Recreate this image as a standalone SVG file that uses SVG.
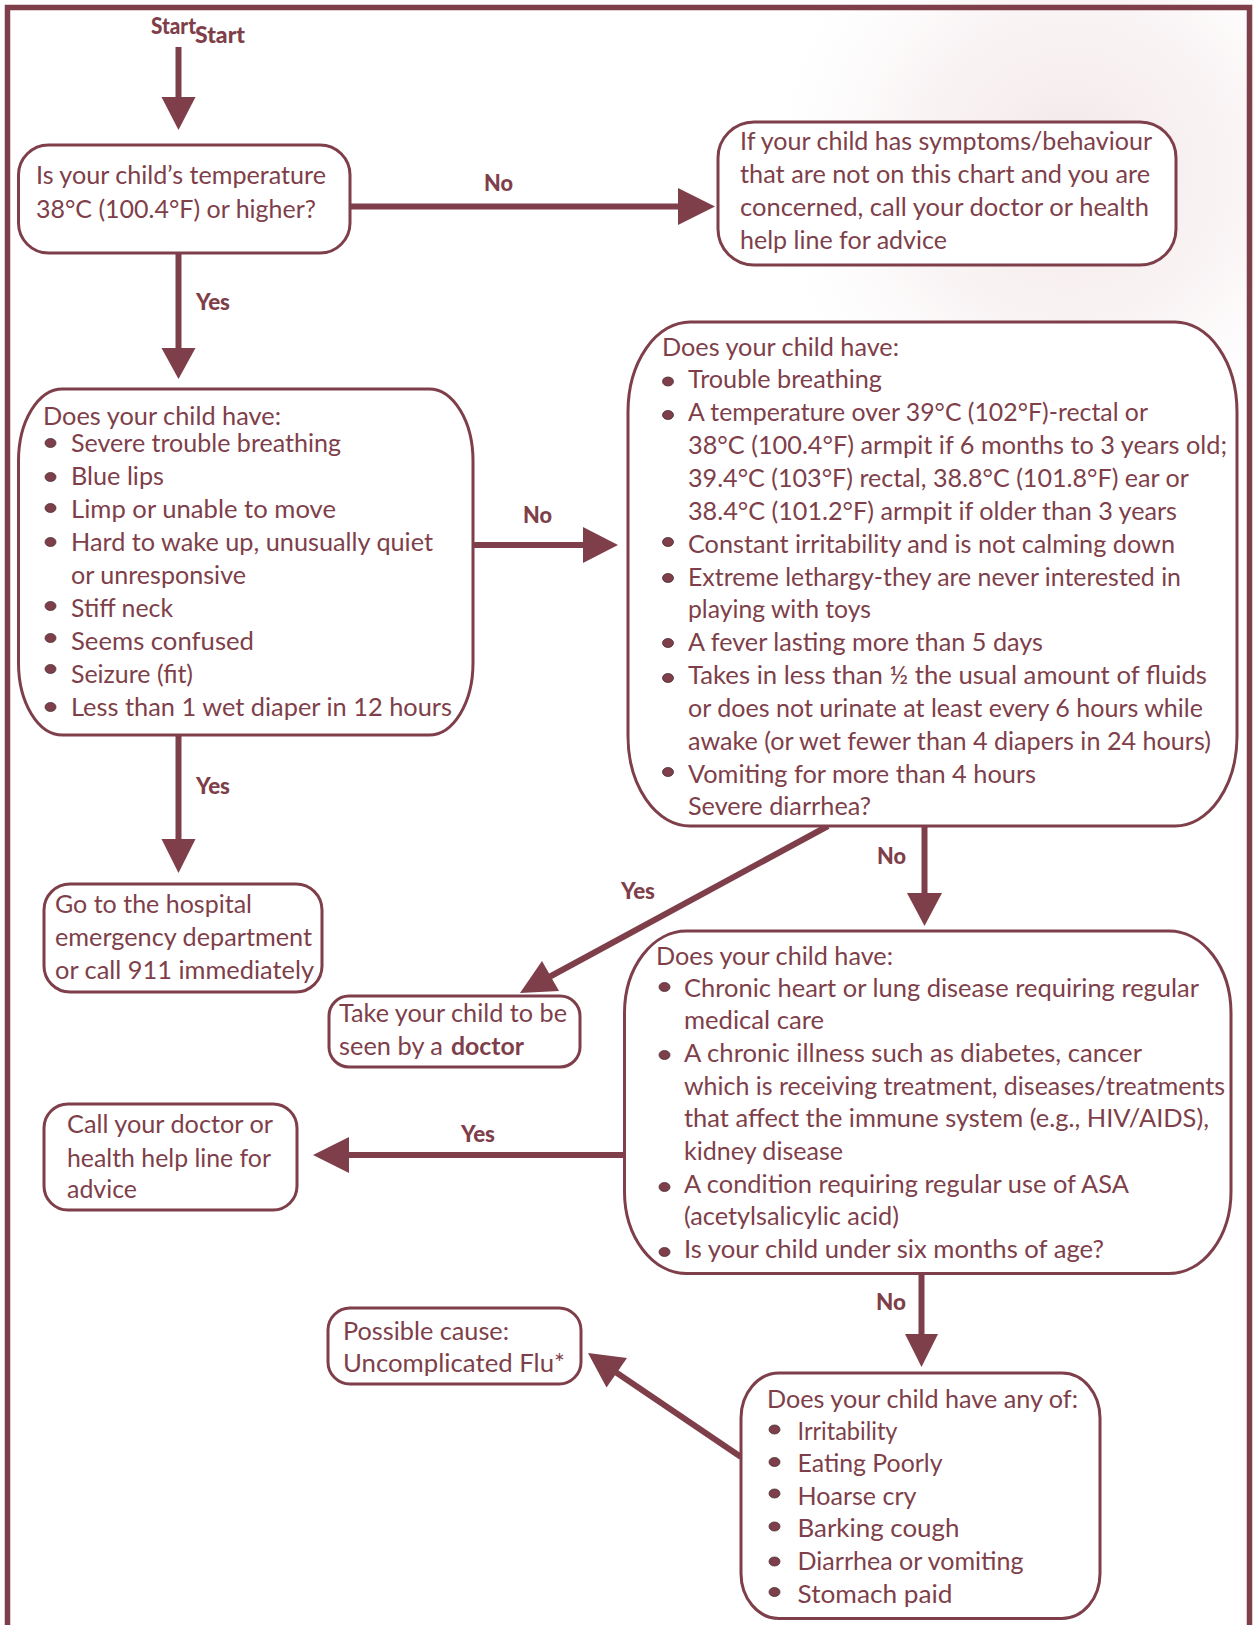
<svg xmlns="http://www.w3.org/2000/svg" width="1254" height="1625" viewBox="0 0 1254 1625">
<style>
.t{font-family:Lato,"Open Sans","Liberation Sans",sans-serif;font-size:25px;fill:#7E3F4A}
.tb{font-family:Lato,"Open Sans","Liberation Sans",sans-serif;font-size:25px;font-weight:bold;fill:#7E3F4A}
.l{font-family:Lato,"Liberation Sans",sans-serif;font-size:22px;font-weight:900;fill:#7E3F4A}
.box{fill:#FFFFFF;stroke:#7E3F4A;stroke-width:3}
.ln{stroke:#7E3F4A;stroke-width:6;fill:none}
.ah{fill:#7E3F4A}
.b{fill:#7E3F4A;stroke:#4A3035;stroke-width:0.8}
.frame{fill:none;stroke:#7E3F4A;stroke-width:5.5}
</style>
<defs>
<radialGradient id="bg" gradientUnits="userSpaceOnUse" cx="1070" cy="170" r="320">
<stop offset="0" stop-color="#E8D2D5" stop-opacity="0.55"/>
<stop offset="0.55" stop-color="#F0E2E4" stop-opacity="0.35"/>
<stop offset="1" stop-color="#FFFFFF" stop-opacity="0"/>
</radialGradient>
</defs>
<rect width="1254" height="1625" fill="#FFFFFF"/>
<rect x="700" y="0" width="554" height="560" fill="url(#bg)"/>
<path class="frame" d="M7.5,1625 V7.5 H1249.5 V1625"/>

<g id="start">
<text class="l" x="151" y="34" textLength="45" lengthAdjust="spacingAndGlyphs">Start</text>
<text class="l" x="195" y="43" textLength="50" lengthAdjust="spacingAndGlyphs">Start</text>
</g>

<g id="connectors">
<line class="ln" x1="178.5" y1="47" x2="178.5" y2="98"/>
<polygon class="ah" points="161.5,97 195.5,97 178.5,130"/>

<line class="ln" x1="350" y1="206.5" x2="680" y2="206.5"/>
<polygon class="ah" points="678,188 678,225 715,206.5"/>
<text class="l" x="484" y="191" textLength="29" lengthAdjust="spacingAndGlyphs">No</text>

<line class="ln" x1="178.5" y1="253" x2="178.5" y2="350"/>
<polygon class="ah" points="161.5,348 195.5,348 178.5,379"/>
<text class="l" x="196" y="310" textLength="34" lengthAdjust="spacingAndGlyphs">Yes</text>

<line class="ln" x1="473" y1="545" x2="585" y2="545"/>
<polygon class="ah" points="583,527 583,563 618,545"/>
<text class="l" x="523" y="523" textLength="29" lengthAdjust="spacingAndGlyphs">No</text>

<line class="ln" x1="178.5" y1="736" x2="178.5" y2="841"/>
<polygon class="ah" points="161.5,839 195.5,839 178.5,873"/>
<text class="l" x="196" y="794" textLength="34" lengthAdjust="spacingAndGlyphs">Yes</text>

<line class="ln" x1="828" y1="826" x2="540" y2="982"/>
<polygon class="ah" points="520,993 542,961 559,991"/>
<text class="l" x="621" y="899" textLength="34" lengthAdjust="spacingAndGlyphs">Yes</text>

<line class="ln" x1="924.5" y1="826" x2="924.5" y2="895"/>
<polygon class="ah" points="907,893 942,893 924.5,926"/>
<text class="l" x="877" y="864" textLength="29" lengthAdjust="spacingAndGlyphs">No</text>

<line class="ln" x1="624" y1="1155" x2="347" y2="1155"/>
<polygon class="ah" points="349,1137 349,1173 313,1155"/>
<text class="l" x="461" y="1142" textLength="34" lengthAdjust="spacingAndGlyphs">Yes</text>

<line class="ln" x1="921.5" y1="1273" x2="921.5" y2="1336"/>
<polygon class="ah" points="905,1334 938,1334 921.5,1367"/>
<text class="l" x="876" y="1310" textLength="30" lengthAdjust="spacingAndGlyphs">No</text>

<line class="ln" x1="741" y1="1457" x2="614" y2="1371"/>
<polygon class="ah" points="588,1353 627,1358 606.5,1387.5"/>
</g>

<g id="n1">
<rect class="box" x="18.5" y="145" width="331.5" height="108" rx="30" ry="30"/>
<text class="t" x="36" y="184" textLength="290" lengthAdjust="spacingAndGlyphs">Is your child’s temperature</text>
<text class="t" x="36" y="218" textLength="280" lengthAdjust="spacingAndGlyphs">38°C (100.4°F) or higher?</text>
</g>

<g id="n2">
<rect class="box" x="718" y="122" width="458" height="143" rx="36" ry="36"/>
<text class="t" x="740" y="150" textLength="412" lengthAdjust="spacingAndGlyphs">If your child has symptoms/behaviour</text>
<text class="t" x="740" y="183" textLength="410" lengthAdjust="spacingAndGlyphs">that are not on this chart and you are</text>
<text class="t" x="740" y="216" textLength="409" lengthAdjust="spacingAndGlyphs">concerned, call your doctor or health</text>
<text class="t" x="740" y="249" textLength="207" lengthAdjust="spacingAndGlyphs">help line for advice</text>
</g>

<g id="n3">
<rect class="box" x="18.5" y="389" width="454.5" height="346" rx="44" ry="72"/>
<text class="t" x="43" y="425" textLength="238" lengthAdjust="spacingAndGlyphs">Does your child have:</text>
<ellipse class="b" cx="50.5" cy="443" rx="5.5" ry="4.5"/>
<text class="t" x="71" y="452" textLength="270" lengthAdjust="spacingAndGlyphs">Severe trouble breathing</text>
<ellipse class="b" cx="50.5" cy="477" rx="5.5" ry="4.5"/>
<text class="t" x="71" y="485" textLength="93" lengthAdjust="spacingAndGlyphs">Blue lips</text>
<ellipse class="b" cx="50.5" cy="508" rx="5.5" ry="4.5"/>
<text class="t" x="71" y="518" textLength="265" lengthAdjust="spacingAndGlyphs">Limp or unable to move</text>
<ellipse class="b" cx="50.5" cy="542" rx="5.5" ry="4.5"/>
<text class="t" x="71" y="551" textLength="362" lengthAdjust="spacingAndGlyphs">Hard to wake up, unusually quiet</text>
<text class="t" x="71" y="584" textLength="175" lengthAdjust="spacingAndGlyphs">or unresponsive</text>
<ellipse class="b" cx="50.5" cy="606" rx="5.5" ry="4.5"/>
<text class="t" x="71" y="617" textLength="102" lengthAdjust="spacingAndGlyphs">Stiff neck</text>
<ellipse class="b" cx="50.5" cy="638" rx="5.5" ry="4.5"/>
<text class="t" x="71" y="650" textLength="183" lengthAdjust="spacingAndGlyphs">Seems confused</text>
<ellipse class="b" cx="50.5" cy="669" rx="5.5" ry="4.5"/>
<text class="t" x="71" y="683" textLength="122" lengthAdjust="spacingAndGlyphs">Seizure (fit)</text>
<ellipse class="b" cx="50.5" cy="707" rx="5.5" ry="4.5"/>
<text class="t" x="71" y="716" textLength="381" lengthAdjust="spacingAndGlyphs">Less than 1 wet diaper in 12 hours</text>
</g>

<g id="n4">
<rect class="box" x="628" y="322" width="609" height="504" rx="62" ry="90"/>
<text class="t" x="662" y="356" textLength="237" lengthAdjust="spacingAndGlyphs">Does your child have:</text>
<ellipse class="b" cx="668" cy="381.5" rx="5.5" ry="4.5"/>
<text class="t" x="688" y="388" textLength="194" lengthAdjust="spacingAndGlyphs">Trouble breathing</text>
<ellipse class="b" cx="668" cy="415" rx="5.5" ry="4.5"/>
<text class="t" x="688" y="421" textLength="460" lengthAdjust="spacingAndGlyphs">A temperature over 39°C (102°F)-rectal or</text>
<text class="t" x="688" y="454" textLength="539" lengthAdjust="spacingAndGlyphs">38°C (100.4°F) armpit if 6 months to 3 years old;</text>
<text class="t" x="688" y="487" textLength="501" lengthAdjust="spacingAndGlyphs">39.4°C (103°F) rectal, 38.8°C (101.8°F) ear or</text>
<text class="t" x="688" y="520" textLength="489" lengthAdjust="spacingAndGlyphs">38.4°C (101.2°F) armpit if older than 3 years</text>
<ellipse class="b" cx="668" cy="542" rx="5.5" ry="4.5"/>
<text class="t" x="688" y="553" textLength="487" lengthAdjust="spacingAndGlyphs">Constant irritability and is not calming down</text>
<ellipse class="b" cx="668" cy="578" rx="5.5" ry="4.5"/>
<text class="t" x="688" y="586" textLength="493" lengthAdjust="spacingAndGlyphs">Extreme lethargy-they are never interested in</text>
<text class="t" x="688" y="618" textLength="183" lengthAdjust="spacingAndGlyphs">playing with toys</text>
<ellipse class="b" cx="668" cy="643" rx="5.5" ry="4.5"/>
<text class="t" x="688" y="651" textLength="355" lengthAdjust="spacingAndGlyphs">A fever lasting more than 5 days</text>
<ellipse class="b" cx="668" cy="678" rx="5.5" ry="4.5"/>
<text class="t" x="688" y="684" textLength="519" lengthAdjust="spacingAndGlyphs">Takes in less than ½ the usual amount of fluids</text>
<text class="t" x="688" y="717" textLength="515" lengthAdjust="spacingAndGlyphs">or does not urinate at least every 6 hours while</text>
<text class="t" x="688" y="750" textLength="523" lengthAdjust="spacingAndGlyphs">awake (or wet fewer than 4 diapers in 24 hours)</text>
<ellipse class="b" cx="668" cy="772" rx="5.5" ry="4.5"/>
<text class="t" x="688" y="783" textLength="348" lengthAdjust="spacingAndGlyphs">Vomiting for more than 4 hours</text>
<text class="t" x="688" y="815" textLength="183" lengthAdjust="spacingAndGlyphs">Severe diarrhea?</text>
</g>

<g id="n5">
<rect class="box" x="329" y="996" width="251" height="71" rx="20" ry="20"/>
<text class="t" x="339" y="1022" textLength="228" lengthAdjust="spacingAndGlyphs">Take your child to be</text>
<text class="t" x="339" y="1055" textLength="104" lengthAdjust="spacingAndGlyphs">seen by a</text>
<text class="tb" x="451" y="1055" textLength="73" lengthAdjust="spacingAndGlyphs">doctor</text>
</g>

<g id="n6">
<rect class="box" x="44" y="884" width="278" height="108" rx="26" ry="26"/>
<text class="t" x="55" y="913" textLength="197" lengthAdjust="spacingAndGlyphs">Go to the hospital</text>
<text class="t" x="55" y="946" textLength="257" lengthAdjust="spacingAndGlyphs">emergency department</text>
<text class="t" x="55" y="979" textLength="259" lengthAdjust="spacingAndGlyphs">or call 911 immediately</text>
</g>

<g id="n7">
<rect class="box" x="44" y="1104" width="253" height="106" rx="24" ry="24"/>
<text class="t" x="67" y="1133" textLength="206" lengthAdjust="spacingAndGlyphs">Call your doctor or</text>
<text class="t" x="67" y="1167" textLength="204" lengthAdjust="spacingAndGlyphs">health help line for</text>
<text class="t" x="67" y="1198" textLength="70" lengthAdjust="spacingAndGlyphs">advice</text>
</g>

<g id="n8">
<rect class="box" x="624.5" y="931" width="606.5" height="342.5" rx="62" ry="82"/>
<text class="t" x="656" y="965" textLength="237" lengthAdjust="spacingAndGlyphs">Does your child have:</text>
<ellipse class="b" cx="664.5" cy="987" rx="5.5" ry="4.5"/>
<text class="t" x="684" y="997" textLength="515" lengthAdjust="spacingAndGlyphs">Chronic heart or lung disease requiring regular</text>
<text class="t" x="684" y="1029" textLength="140" lengthAdjust="spacingAndGlyphs">medical care</text>
<ellipse class="b" cx="664.5" cy="1055" rx="5.5" ry="4.5"/>
<text class="t" x="684" y="1062" textLength="458" lengthAdjust="spacingAndGlyphs">A chronic illness such as diabetes, cancer</text>
<text class="t" x="684" y="1095" textLength="541" lengthAdjust="spacingAndGlyphs">which is receiving treatment, diseases/treatments</text>
<text class="t" x="684" y="1127" textLength="525" lengthAdjust="spacingAndGlyphs">that affect the immune system (e.g., HIV/AIDS),</text>
<text class="t" x="684" y="1160" textLength="159" lengthAdjust="spacingAndGlyphs">kidney disease</text>
<ellipse class="b" cx="664.5" cy="1187" rx="5.5" ry="4.5"/>
<text class="t" x="684" y="1193" textLength="445" lengthAdjust="spacingAndGlyphs">A condition requiring regular use of ASA</text>
<text class="t" x="684" y="1225" textLength="215" lengthAdjust="spacingAndGlyphs">(acetylsalicylic acid)</text>
<ellipse class="b" cx="664.5" cy="1252" rx="5.5" ry="4.5"/>
<text class="t" x="684" y="1258" textLength="420" lengthAdjust="spacingAndGlyphs">Is your child under six months of age?</text>
</g>

<g id="n9">
<rect class="box" x="741" y="1373" width="359" height="245.5" rx="38" ry="45"/>
<text class="t" x="767" y="1408" textLength="311" lengthAdjust="spacingAndGlyphs">Does your child have any of:</text>
<ellipse class="b" cx="774.5" cy="1429.5" rx="5.5" ry="4.5"/>
<text class="t" x="797.5" y="1440" textLength="100" lengthAdjust="spacingAndGlyphs">Irritability</text>
<ellipse class="b" cx="774.5" cy="1462" rx="5.5" ry="4.5"/>
<text class="t" x="797.5" y="1472" textLength="145" lengthAdjust="spacingAndGlyphs">Eating Poorly</text>
<ellipse class="b" cx="774.5" cy="1493.5" rx="5.5" ry="4.5"/>
<text class="t" x="797.5" y="1505" textLength="119" lengthAdjust="spacingAndGlyphs">Hoarse cry</text>
<ellipse class="b" cx="774.5" cy="1526.5" rx="5.5" ry="4.5"/>
<text class="t" x="797.5" y="1537" textLength="162" lengthAdjust="spacingAndGlyphs">Barking cough</text>
<ellipse class="b" cx="774.5" cy="1561.5" rx="5.5" ry="4.5"/>
<text class="t" x="797.5" y="1570" textLength="226" lengthAdjust="spacingAndGlyphs">Diarrhea or vomiting</text>
<ellipse class="b" cx="774.5" cy="1592" rx="5.5" ry="4.5"/>
<text class="t" x="797.5" y="1603" textLength="155" lengthAdjust="spacingAndGlyphs">Stomach paid</text>
</g>

<g id="n10">
<rect class="box" x="328" y="1308" width="253" height="76" rx="22" ry="22"/>
<text class="t" x="343" y="1340" textLength="166" lengthAdjust="spacingAndGlyphs">Possible cause:</text>
<text class="t" x="343" y="1372" textLength="222" lengthAdjust="spacingAndGlyphs">Uncomplicated Flu*</text>
</g>
</svg>
